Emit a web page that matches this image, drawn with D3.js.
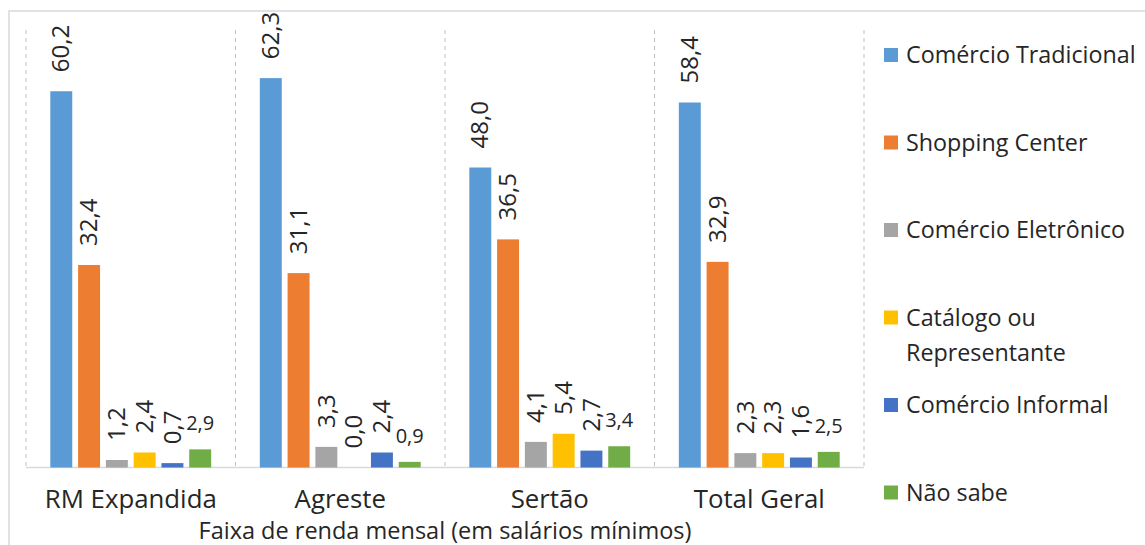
<!DOCTYPE html>
<html>
<head>
<meta charset="utf-8">
<script src="https://cdn.jsdelivr.net/npm/d3@7"></script>
<style>
  html, body { margin: 0; padding: 0; background: #fff; }
  svg { display: block; font-family: "Open Sans", sans-serif; }
</style>
</head>
<body>
<svg id="chart" width="1145" height="545"></svg>
<script>
const categories = ["RM Expandida", "Agreste", "Sertão", "Total Geral"];
const seriesNames = ["Comércio Tradicional", "Shopping Center", "Comércio Eletrônico", "Catálogo ou Representante", "Comércio Informal", "Não sabe"];
const seriesColors = ["#5B9BD5", "#ED7D31", "#A5A5A5", "#FFC000", "#4472C4", "#70AD47"];
const comercioTradicional = [60.2, 62.3, 48.0, 58.4];
const shoppingCenter = [32.4, 31.1, 36.5, 32.9];
const comercioEletronico = [1.2, 3.3, 4.1, 2.3];
const catalogoRepresentante = [2.4, 0.0, 5.4, 2.3];
const comercioInformal = [0.7, 2.4, 2.7, 1.6];
const naoSabe = [2.9, 0.9, 3.4, 2.5];
const seriesValues = [comercioTradicional, shoppingCenter, comercioEletronico, catalogoRepresentante, comercioInformal, naoSabe];
const axisTitle = "Faixa de renda mensal (em salários mínimos)";

const svg = d3.select("#chart");
const W = 1145, H = 545;
const plot = { left: 26, right: 864, top: 30, bottom: 467.5 };
const textColor = "#262626";
const fmt = v => v.toFixed(1).replace(".", ",");

// chart border
svg.append("rect").attr("x", 9).attr("y", 11).attr("width", W + 10).attr("height", H + 10)
  .attr("fill", "none").attr("stroke", "#d9d9d9").attr("stroke-width", 1.5);

const x0 = d3.scaleBand().domain(categories).range([plot.left, plot.right]).padding(0);
const x1 = d3.scaleBand().domain(d3.range(seriesNames.length)).range([0, x0.bandwidth()])
  .paddingInner(0.21).paddingOuter(0.875);
const y = d3.scaleLinear().domain([0, 70]).range([plot.bottom, plot.top]);

// dashed category separators
const seps = categories.map(c => x0(c)).concat([plot.right]);
svg.append("g").selectAll("line").data(seps).join("line")
  .attr("x1", d => d).attr("x2", d => d)
  .attr("y1", plot.top).attr("y2", plot.bottom)
  .attr("stroke", "#bfbfbf").attr("stroke-width", 1).attr("stroke-dasharray", "4,4");

// baseline
svg.append("line").attr("x1", plot.left).attr("x2", plot.right)
  .attr("y1", plot.bottom).attr("y2", plot.bottom)
  .attr("stroke", "#d9d9d9").attr("stroke-width", 1.5);

// bars
const data = [];
categories.forEach((c, ci) => seriesValues.forEach((vals, si) => data.push({ c, si, v: vals[ci] })));

const g = svg.append("g");
g.selectAll("rect.bar").data(data).join("rect").attr("class", "bar")
  .attr("x", d => x0(d.c) + x1(d.si))
  .attr("y", d => y(d.v))
  .attr("width", x1.bandwidth())
  .attr("height", d => y(0) - y(d.v))
  .attr("fill", d => seriesColors[d.si]);

// labels
const lastIdx = seriesNames.length - 1;
g.selectAll("text.rot").data(data.filter(d => d.si !== lastIdx)).join("text").attr("class", "rot")
  .attr("transform", d => `translate(${x0(d.c) + x1(d.si) + x1.bandwidth() / 2},${y(d.v) - 19}) rotate(-90)`)
  .attr("dy", "0.34em")
  .attr("text-anchor", "start")
  .attr("font-size", 24).attr("fill", textColor)
  .text(d => fmt(d.v));

g.selectAll("text.hor").data(data.filter(d => d.si === lastIdx)).join("text").attr("class", "hor")
  .attr("x", d => x0(d.c) + x1(d.si) + x1.bandwidth() / 2)
  .attr("y", d => y(d.v) - 19)
  .attr("text-anchor", "middle")
  .attr("font-size", 20).attr("fill", textColor)
  .text(d => fmt(d.v));

// category axis labels
svg.append("g").selectAll("text").data(categories).join("text")
  .attr("x", d => x0(d) + x0.bandwidth() / 2)
  .attr("y", 508)
  .attr("text-anchor", "middle")
  .attr("font-size", 25.8).attr("fill", textColor)
  .text(d => d);

// axis title
svg.append("text")
  .attr("x", (plot.left + plot.right) / 2).attr("y", 539)
  .attr("text-anchor", "middle").attr("font-size", 23.5).attr("fill", textColor)
  .text(axisTitle);

// legend
const legend = svg.append("g");
const legStep = 87.5, legY0 = 55, legTextX = 906, legMaxW = 1145 - legTextX - 4;
seriesNames.forEach((name, i) => {
  const cy = legY0 + i * legStep;
  legend.append("rect").attr("x", 884).attr("y", cy - 7).attr("width", 14).attr("height", 14)
    .attr("fill", seriesColors[i]);
  const t = legend.append("text").attr("x", legTextX).attr("y", cy)
    .attr("font-size", 23.3).attr("fill", textColor);
  const words = name.split(" ");
  let line = [];
  let tspan = t.append("tspan").attr("x", legTextX).attr("dy", "0.36em");
  words.forEach(w => {
    line.push(w);
    tspan.text(line.join(" "));
    if (tspan.node().getComputedTextLength() > legMaxW && line.length > 1) {
      line.pop();
      tspan.text(line.join(" "));
      line = [w];
      tspan = t.append("tspan").attr("x", legTextX).attr("dy", 35).text(w);
    }
  });
});
</script>
</body>
</html>
